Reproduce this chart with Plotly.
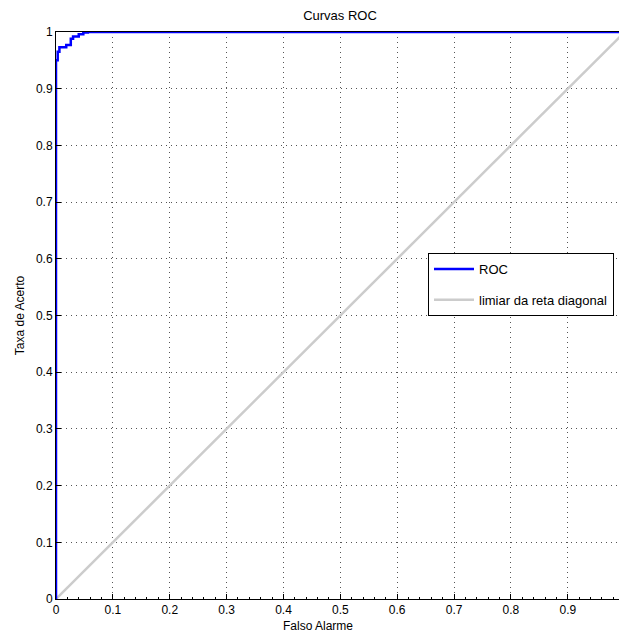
import plotly.graph_objects as go

# ROC curve (false alarm rate vs hit rate)
fpr = [0, 0, 0.003, 0.003, 0.006, 0.006, 0.018, 0.018, 0.026, 0.026, 0.030, 0.030,
       0.040, 0.040, 0.048, 0.048, 0.056, 0.056, 1.0]
tpr = [0, 0.95, 0.95, 0.965, 0.965, 0.973, 0.973, 0.977, 0.977, 0.988, 0.988, 0.992,
       0.992, 0.996, 0.996, 0.999, 0.999, 1.0, 1.0]

diag_x = [0, 1]
diag_y = [0, 1]

tick_vals = [0, 0.1, 0.2, 0.3, 0.4, 0.5, 0.6, 0.7, 0.8, 0.9, 1]
x_tick_text = ["0", "0.1", "0.2", "0.3", "0.4", "0.5", "0.6", "0.7", "0.8", "0.9", ""]
y_tick_text = ["0", "0.1", "0.2", "0.3", "0.4", "0.5", "0.6", "0.7", "0.8", "0.9", "1"]

FONT = "Liberation Sans, Arial, Helvetica, sans-serif"

fig = go.Figure()
fig.add_trace(go.Scatter(x=diag_x, y=diag_y, mode="lines", name="limiar da reta diagonal",
                         legendgroup="b", legendrank=2,
                         line=dict(color="#cccccc", width=2.5), cliponaxis=False))
fig.add_trace(go.Scatter(x=fpr, y=tpr, mode="lines", name="ROC", legendgroup="a",
                         legendrank=1,
                         line=dict(color="#0000ff", width=2.5), cliponaxis=False))

fig.update_layout(
    width=619, height=635,
    margin=dict(l=56, r=0, t=32, b=36),
    paper_bgcolor="white", plot_bgcolor="white",
    font=dict(family=FONT, size=12, color="black"),
    title=dict(text="Curvas ROC", x=340 / 619, xanchor="center",
               y=1 - 15 / 635, yanchor="middle", font=dict(size=13)),
    showlegend=True,
    legend=dict(x=(428 - 56) / 563, y=(599 - 253) / 567, xanchor="left", yanchor="top",
                bgcolor="white", bordercolor="black", borderwidth=1,
                font=dict(size=13), traceorder="grouped",
                itemwidth=40, tracegroupgap=11, entrywidth=145),
    xaxis=dict(range=[0, 0.99], tickvals=tick_vals, ticktext=x_tick_text,
               showgrid=True, gridcolor="#555555", griddash="1px,4px", gridwidth=1,
               zeroline=False, showline=True, linecolor="black", linewidth=1,
               mirror=True, ticks="inside", ticklen=5, tickcolor="black",
               minor=dict(dtick=0.02, ticks="inside", ticklen=2, tickcolor="black", showgrid=False)),
    yaxis=dict(range=[0, 1], tickvals=tick_vals, ticktext=y_tick_text,
               showgrid=True, gridcolor="#555555", griddash="1px,4px", gridwidth=1,
               zeroline=False, showline=True, linecolor="black", linewidth=1,
               mirror=False, ticks="inside", ticklen=5, tickcolor="black",
               title=dict(text="Taxa de Acerto", standoff=8, font=dict(size=12))),
    annotations=[dict(text="Falso Alarme", xref="paper", yref="paper",
                      x=(318 - 56) / 563, y=-(626 - 599) / 567, xanchor="center",
                      yanchor="middle", showarrow=False, font=dict(size=12))],
)

fig.write_html("out.html")
